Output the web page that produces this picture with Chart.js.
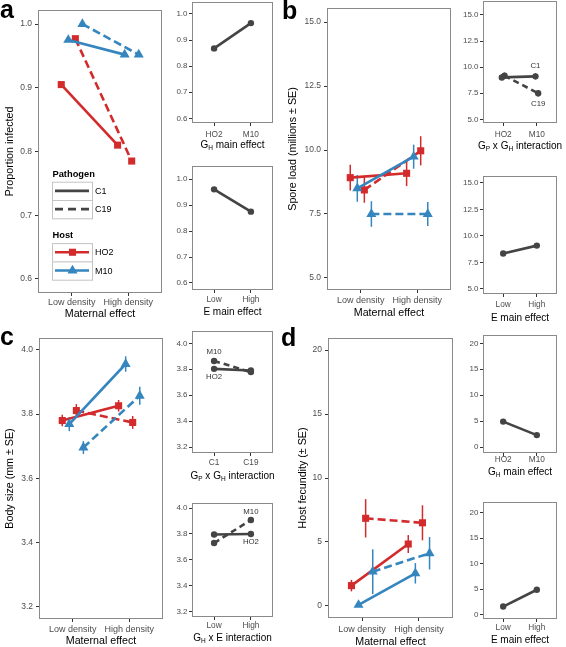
<!DOCTYPE html>
<html>
<head>
<meta charset="utf-8">
<script src="https://cdn.jsdelivr.net/npm/chart.js@4.4.1/dist/chart.umd.min.js"></script>
<style>
  html, body { margin: 0; padding: 0; background: #fff; }
  #fig { position: relative; width: 566px; height: 647px; overflow: hidden; background: #fff;
         font-family: "Liberation Sans", Arial, Helvetica, sans-serif; }
  #fig canvas { position: absolute; }
  .plab { position: absolute; font-weight: bold; font-size: 25px; line-height: 25px; color: #000; }
  .xt { position: absolute; font-size: 10px; line-height: 10px; color: #000; white-space: nowrap;
        transform: translate(-50%, -50%); }
  .xt sub { font-size: 6.5px; vertical-align: -2px; line-height: 0; }
</style>
</head>
<body>
<div id="fig"></div>
<script>
// ---------------- DATA ----------------
const maternal = ['Low density', 'High density'];
const hosts = ['HO2', 'M10'];
const pathogens = ['C1', 'C19'];
const envLevels = ['Low', 'High'];

const yTicksProp = [0.6, 0.7, 0.8, 0.9, 1.0];
const yTicksSpore = [5.0, 7.5, 10.0, 12.5, 15.0];
const yTicksSize = [3.2, 3.4, 3.6, 3.8, 4.0];
const yTicksFec = [0, 5, 10, 15, 20];

// (a) proportion infected  [Low density, High density]
const infHO2C1 = [0.905, 0.810];
const infHO2C19 = [0.977, 0.785];
const infM10C1 = [0.975, 0.952];
const infM10C19 = [1.000, 0.952];
const infByHost = [0.868, 0.965];   // HO2, M10
const infByEnv = [0.961, 0.875];    // Low, High

// (b) spore load (millions)
const sporeHO2C1 = [8.92, 9.09];   const sporeHO2C1SE = [0.50, 0.50];
const sporeHO2C19 = [8.44, 9.97];  const sporeHO2C19SE = [0.50, 0.57];
const sporeM10C1 = [8.50, 9.74];   const sporeM10C1SE = [0.52, 0.47];
const sporeM10C19 = [7.50, 7.50];  const sporeM10C19SE = [0.50, 0.47];
const sporeC1ByHost = [9.02, 9.12];  const sporeC1ByHostSE = [0.30, 0.30];
const sporeC19ByHost = [9.18, 7.50]; const sporeC19ByHostSE = [0.30, 0.30];
const sporeByEnv = [8.34, 9.08];

// (c) body size (mm)
const sizeHO2C1 = [3.780, 3.826];  const sizeHO2C1SE = [0.018, 0.018];
const sizeHO2C19 = [3.811, 3.774]; const sizeHO2C19SE = [0.020, 0.020];
const sizeM10C1 = [3.769, 3.956];  const sizeM10C1SE = [0.022, 0.024];
const sizeM10C19 = [3.696, 3.857]; const sizeM10C19SE = [0.020, 0.028];
const sizeHO2ByPath = [3.803, 3.790];  // C1, C19
const sizeM10ByPath = [3.864, 3.778];
const sizeHO2ByEnv = [3.796, 3.800];   // Low, High
const sizeM10ByEnv = [3.730, 3.908];

// (d) host fecundity
const fecHO2C1 = [1.59, 4.84];   const fecHO2C1SE = [0.45, 0.70];
const fecHO2C19 = [6.85, 6.50];  const fecHO2C19SE = [1.50, 1.37];
const fecM10C1 = [0.08, 2.55];   const fecM10C1SE = [0.00, 0.80];
const fecM10C19 = [2.68, 4.12];  const fecM10C19SE = [1.75, 1.27];
const fecByHost = [4.90, 2.30];
const fecByEnv = [1.60, 4.90];

// ---------------- STYLE / HELPERS ----------------
const fig = document.getElementById('fig');
const FONT = '"Liberation Sans", Arial, Helvetica, sans-serif';
const RED = '#D32A2C', BLUE = '#3585BF', DARK = '#444444';
const TICK_COL = '#4d4d4d';
Chart.defaults.font.family = FONT;
const DODGE = [-0.1875, -0.0625, 0.0625, 0.1875];

function pts(vals, dodge) { return vals.map((v, i) => ({ x: i + 1 + (dodge || 0), y: v })); }

function mainSet(label, vals, ses, host, dashed, dodge) {
  const col = host === hosts[0] ? RED : BLUE;
  const tri = host === hosts[1];
  return {
    label, data: pts(vals, dodge), errors: ses, showLine: true,
    borderColor: col, backgroundColor: col, borderWidth: 2.6, borderDash: dashed ? [8, 4] : [],
    pointStyle: tri ? 'triangle' : 'rect', pointRadius: tri ? 5.8 : 5.0, pointBorderWidth: 0,
    pointBackgroundColor: col, pointBorderColor: col, order: tri ? 0 : 1
  };
}
function sideSet(label, vals, dashed, extra) {
  extra = extra || {};
  return {
    label, data: pts(vals, extra.dodge), errors: extra.errors, showLine: true,
    borderColor: DARK, backgroundColor: DARK, borderWidth: 2.6, borderDash: dashed ? [6, 4] : [],
    pointStyle: 'circle', pointRadius: 3.2, pointBorderWidth: 0, pointBackgroundColor: DARK,
    pointLabel: extra.pl
  };
}

// panel border
const boxPlugin = {
  id: 'ggBox',
  afterDatasetsDraw(chart) {
    const { ctx, chartArea: a } = chart;
    ctx.save();
    ctx.strokeStyle = '#8a8a8a'; ctx.lineWidth = 1; ctx.setLineDash([]);
    ctx.strokeRect(a.left + 0.5, a.top + 0.5, a.right - a.left - 1, a.bottom - a.top - 1);
    ctx.restore();
  }
};
// error bars
const errPlugin = {
  id: 'ggErr',
  beforeDatasetsDraw(chart) {
    const ctx = chart.ctx, ys = chart.scales.y;
    chart.data.datasets.forEach((ds, i) => {
      if (!ds.errors) return;
      const meta = chart.getDatasetMeta(i);
      ctx.save();
      ctx.strokeStyle = ds.borderColor; ctx.lineWidth = 1.5; ctx.setLineDash([]);
      ds.data.forEach((p, j) => {
        const se = ds.errors[j];
        if (!se) return;
        const x = meta.data[j].x;
        ctx.beginPath();
        ctx.moveTo(x, ys.getPixelForValue(p.y + se));
        ctx.lineTo(x, ys.getPixelForValue(p.y - se));
        ctx.stroke();
      });
      ctx.restore();
    });
  }
};
// text labels next to points (side panels)
const labelPlugin = {
  id: 'ggPtLabel',
  afterDatasetsDraw(chart) {
    const ctx = chart.ctx;
    chart.data.datasets.forEach((ds, i) => {
      if (!ds.pointLabel) return;
      const el = chart.getDatasetMeta(i).data[ds.pointLabel.index];
      ctx.save();
      ctx.font = '7.8px ' + FONT; ctx.fillStyle = '#333';
      ctx.textAlign = 'center'; ctx.textBaseline = 'middle';
      ctx.fillText(ds.label, el.x, el.y + ds.pointLabel.dy);
      ctx.restore();
    });
  }
};
function drawMarker(ctx, style, r, x, y) {
  ctx.beginPath();
  if (style === 'rect') {
    const s = Math.SQRT1_2 * r; ctx.rect(x - s, y - s, 2 * s, 2 * s);
  } else if (style === 'triangle') {
    let rad = 0;
    ctx.moveTo(x + Math.sin(rad) * r, y - Math.cos(rad) * r);
    rad += 2 * Math.PI / 3; ctx.lineTo(x + Math.sin(rad) * r, y - Math.cos(rad) * r);
    rad += 2 * Math.PI / 3; ctx.lineTo(x + Math.sin(rad) * r, y - Math.cos(rad) * r);
    ctx.closePath();
  } else { ctx.arc(x, y, r, 0, 2 * Math.PI); }
  ctx.fill();
}
// ggplot-like legend inside panel a
const legendPlugin = {
  id: 'ggLegend',
  afterDatasetsDraw(chart, args, o) {
    if (!o || !o.groups) return;
    const ctx = chart.ctx, ca = chart.chartArea;
    const x0 = ca.left + o.left;
    let y = ca.top + o.top;
    ctx.save();
    o.groups.forEach(g => {
      ctx.fillStyle = '#000'; ctx.font = 'bold 9.3px ' + FONT;
      ctx.textAlign = 'left'; ctx.textBaseline = 'middle';
      ctx.fillText(g.title, x0 + 0.5, y);
      let ky = y + o.titleGap;
      g.items.forEach(it => {
        ctx.fillStyle = '#fff'; ctx.fillRect(x0, ky, o.keyW, o.keyH);
        ctx.strokeStyle = '#c4c4c4'; ctx.lineWidth = 1; ctx.setLineDash([]);
        ctx.strokeRect(x0 + 0.5, ky + 0.5, o.keyW, o.keyH);
        const cy = ky + o.keyH / 2;
        ctx.strokeStyle = it.color; ctx.lineWidth = 2.6; ctx.setLineDash(it.dash || []);
        ctx.beginPath(); ctx.moveTo(x0 + 3, cy); ctx.lineTo(x0 + o.keyW - 3, cy); ctx.stroke();
        ctx.setLineDash([]);
        if (it.marker) { ctx.fillStyle = it.color; drawMarker(ctx, it.marker, it.r, x0 + o.keyW / 2 + 0.5, cy); }
        ctx.fillStyle = '#000'; ctx.font = '9px ' + FONT;
        ctx.fillText(it.text, x0 + o.keyW + 3, cy + 0.5);
        ky += o.keyH;
      });
      y = ky + o.groupGap;
    });
    ctx.restore();
  }
};

function makeChart(s) {
  const tl = 3, padTop = 10, padRight = 10;
  const yFont = s.yFont, xFont = s.xFont;
  const titleSize = 10.7, titleHalf = titleSize * 1.2 / 2 + 1;
  const yw = s.yTitle ? Math.round(s.L - (s.yTitleX - titleHalf)) : 30;
  const left = s.L - yw, top = s.T - padTop;
  const xh = s.xTitle ? Math.round(s.xTitleY + titleHalf - s.B) : Math.round(s.xTickY + 8 - s.B);
  const W = s.R - s.L + yw + padRight;
  const H = padTop + s.B - s.T + xh;
  const cv = document.createElement('canvas');
  cv.width = W; cv.height = H;
  cv.style.left = left + 'px'; cv.style.top = top + 'px';
  cv.style.width = W + 'px'; cv.style.height = H + 'px';
  fig.appendChild(cv);
  const xPad = s.xTickY - s.B - tl - xFont * 1.2 / 2;
  const grid = { display: true, drawOnChartArea: false, drawTicks: true, tickLength: tl, color: '#333', lineWidth: 1 };
  const plugins = [errPlugin, boxPlugin, labelPlugin];
  if (s.legend) plugins.push(legendPlugin);
  return new Chart(cv, {
    type: 'scatter',
    data: { datasets: s.datasets },
    options: {
      responsive: false, animation: false, devicePixelRatio: 1, events: [],
      layout: { padding: { top: padTop, right: padRight, left: 0, bottom: 0 } },
      plugins: { legend: { display: false }, tooltip: { enabled: false }, ggLegend: s.legend || false },
      scales: {
        x: {
          type: 'linear', position: 'bottom', min: 0.4, max: 2.6,
          afterBuildTicks: sc => { sc.ticks = s.xCats.map((c, i) => ({ value: i + 1 })); },
          afterFit: sc => { sc.height = xh; },
          ticks: { autoSkip: false, maxRotation: 0, minRotation: 0, padding: xPad, color: TICK_COL,
                   font: { family: FONT, size: xFont }, callback: v => s.xCats[Math.round(v) - 1] },
          grid, border: { display: false },
          title: s.xTitle ? { display: true, text: s.xTitle, color: '#000', font: { family: FONT, size: titleSize },
                              padding: { top: 0, bottom: 1 } } : { display: false }
        },
        y: {
          type: 'linear', position: 'left', min: s.yMin, max: s.yMax,
          afterBuildTicks: sc => { sc.ticks = s.yTicks.map(v => ({ value: v })); },
          afterFit: sc => { sc.width = yw; },
          ticks: { padding: s.yPad, color: TICK_COL, font: { family: FONT, size: yFont },
                   callback: v => Number(v).toFixed(s.dec) },
          grid, border: { display: false },
          title: s.yTitle ? { display: true, text: s.yTitle, color: '#000', font: { family: FONT, size: titleSize },
                              padding: { top: 1, bottom: 0 } } : { display: false }
        }
      }
    },
    plugins
  });
}

// ---------------- PANELS ----------------
const mainCommon = { xCats: maternal, yFont: 8.5, xFont: 9, yPad: 3 };
const sideCommon = { yFont: 8, xFont: 8.3, yPad: 1.5 };

const specs = [
  // ---- a ----
  Object.assign({}, mainCommon, {
    L: 38, R: 162, T: 10, B: 293, yMin: 0.578, yMax: 1.022, yTicks: yTicksProp, dec: 1,
    yTitle: 'Proportion infected', yTitleX: 10, xTickY: 302.5, xTitle: 'Maternal effect', xTitleY: 313.5,
    datasets: [
      mainSet('M10 C1', infM10C1, null, 'M10', false, DODGE[1]),
      mainSet('M10 C19', infM10C19, null, 'M10', true, DODGE[3]),
      mainSet('HO2 C1', infHO2C1, null, 'HO2', false, DODGE[0]),
      mainSet('HO2 C19', infHO2C19, null, 'HO2', true, DODGE[2])
    ],
    legend: {
      left: 14, top: 164.3, titleGap: 7.4, keyW: 40, keyH: 18.3, groupGap: 17.4,
      groups: [
        { title: 'Pathogen', items: [
          { text: pathogens[0], color: DARK, dash: [] },
          { text: pathogens[1], color: DARK, dash: [8, 5] } ] },
        { title: 'Host', items: [
          { text: hosts[0], color: RED, marker: 'rect', r: 5.0 },
          { text: hosts[1], color: BLUE, marker: 'triangle', r: 5.8 } ] }
      ]
    }
  }),
  Object.assign({}, sideCommon, {
    L: 192, R: 273, T: 2, B: 123, yMin: 0.582, yMax: 1.046, yTicks: yTicksProp, dec: 1,
    xCats: hosts, xTickY: 135, datasets: [sideSet('G_H', infByHost, false)]
  }),
  Object.assign({}, sideCommon, {
    L: 192, R: 273, T: 166, B: 290, yMin: 0.573, yMax: 1.051, yTicks: yTicksProp, dec: 1,
    xCats: envLevels, xTickY: 300, datasets: [sideSet('E', infByEnv, false)]
  }),
  // ---- b ----
  Object.assign({}, mainCommon, {
    L: 327, R: 451, T: 8, B: 290, yMin: 4.53, yMax: 15.55, yTicks: yTicksSpore, dec: 1,
    yTitle: 'Spore load (millions \u00b1 SE)', yTitleX: 293, xTickY: 301, xTitle: 'Maternal effect', xTitleY: 312.7,
    datasets: [
      mainSet('M10 C1', sporeM10C1, sporeM10C1SE, 'M10', false, DODGE[1]),
      mainSet('M10 C19', sporeM10C19, sporeM10C19SE, 'M10', true, DODGE[3]),
      mainSet('HO2 C1', sporeHO2C1, sporeHO2C1SE, 'HO2', false, DODGE[0]),
      mainSet('HO2 C19', sporeHO2C19, sporeHO2C19SE, 'HO2', true, DODGE[2])
    ]
  }),
  Object.assign({}, sideCommon, {
    L: 483, R: 557, T: 1, B: 123, yMin: 4.65, yMax: 16.34, yTicks: yTicksSpore, dec: 1,
    xCats: hosts, xTickY: 135,
    datasets: [
      sideSet(pathogens[0], sporeC1ByHost, false, { errors: sporeC1ByHostSE, dodge: -0.04, pl: { index: 1, dy: -10 } }),
      sideSet(pathogens[1], sporeC19ByHost, true, { errors: sporeC19ByHostSE, dodge: 0.04, pl: { index: 1, dy: 11 } })
    ]
  }),
  Object.assign({}, sideCommon, {
    L: 483, R: 557, T: 176, B: 294, yMin: 4.52, yMax: 15.64, yTicks: yTicksSpore, dec: 1,
    xCats: envLevels, xTickY: 305, datasets: [sideSet('E', sporeByEnv, false)]
  }),
  // ---- c ----
  Object.assign({}, mainCommon, {
    L: 39, R: 163, T: 338, B: 619, yMin: 3.162, yMax: 4.037, yTicks: yTicksSize, dec: 1,
    yTitle: 'Body size (mm \u00b1 SE)', yTitleX: 10, xTickY: 629.3, xTitle: 'Maternal effect', xTitleY: 641,
    datasets: [
      mainSet('M10 C1', sizeM10C1, sizeM10C1SE, 'M10', false, DODGE[1]),
      mainSet('M10 C19', sizeM10C19, sizeM10C19SE, 'M10', true, DODGE[3]),
      mainSet('HO2 C1', sizeHO2C1, sizeHO2C1SE, 'HO2', false, DODGE[0]),
      mainSet('HO2 C19', sizeHO2C19, sizeHO2C19SE, 'HO2', true, DODGE[2])
    ]
  }),
  Object.assign({}, sideCommon, {
    L: 192, R: 273, T: 331, B: 453, yMin: 3.154, yMax: 4.095, yTicks: yTicksSize, dec: 1,
    xCats: pathogens, xTickY: 462.7,
    datasets: [
      sideSet(hosts[0], sizeHO2ByPath, false, { pl: { index: 0, dy: 7.5 } }),
      sideSet(hosts[1], sizeM10ByPath, true, { pl: { index: 0, dy: -9.5 } })
    ]
  }),
  Object.assign({}, sideCommon, {
    L: 192, R: 273, T: 503, B: 617, yMin: 3.157, yMax: 4.04, yTicks: yTicksSize, dec: 1,
    xCats: envLevels, xTickY: 625.7,
    datasets: [
      sideSet(hosts[0], sizeHO2ByEnv, false, { pl: { index: 1, dy: 8 } }),
      sideSet(hosts[1], sizeM10ByEnv, true, { pl: { index: 1, dy: -8 } })
    ]
  }),
  // ---- d ----
  Object.assign({}, mainCommon, {
    L: 328, R: 453, T: 338, B: 618, yMin: -0.94, yMax: 20.94, yTicks: yTicksFec, dec: 0,
    yTitle: 'Host fecundity (\u00b1 SE)', yTitleX: 303.3, xTickY: 629.3, xTitle: 'Maternal effect', xTitleY: 641.5,
    datasets: [
      mainSet('M10 C1', fecM10C1, fecM10C1SE, 'M10', false, DODGE[1]),
      mainSet('M10 C19', fecM10C19, fecM10C19SE, 'M10', true, DODGE[3]),
      mainSet('HO2 C1', fecHO2C1, fecHO2C1SE, 'HO2', false, DODGE[0]),
      mainSet('HO2 C19', fecHO2C19, fecHO2C19SE, 'HO2', true, DODGE[2])
    ]
  }),
  Object.assign({}, sideCommon, {
    L: 483, R: 557, T: 335, B: 453, yMin: -1.15, yMax: 21.6, yTicks: yTicksFec, dec: 0,
    xCats: hosts, xTickY: 460, datasets: [sideSet('G_H', fecByHost, false)]
  }),
  Object.assign({}, sideCommon, {
    L: 483, R: 557, T: 502, B: 619, yMin: -0.84, yMax: 22.1, yTicks: yTicksFec, dec: 0,
    xCats: envLevels, xTickY: 628, datasets: [sideSet('E', fecByEnv, false)]
  })
];
specs.forEach(makeChart);

// side-panel axis titles (with subscripts) as real text
const sideTitles = [
  { spec: 1, y: 145, html: 'G<sub>H</sub> main effect' },
  { spec: 2, y: 311.7, html: 'E main effect' },
  { spec: 4, y: 145.7, html: 'G<sub>P</sub> x G<sub>H</sub> interaction' },
  { spec: 5, y: 317.7, html: 'E main effect' },
  { spec: 7, y: 475.7, html: 'G<sub>P</sub> x G<sub>H</sub> interaction' },
  { spec: 8, y: 638, html: 'G<sub>H</sub> x E interaction' },
  { spec: 10, y: 471.7, html: 'G<sub>H</sub> main effect' },
  { spec: 11, y: 640, html: 'E main effect' }
];
sideTitles.forEach(t => {
  const s = specs[t.spec];
  const d = document.createElement('div');
  d.className = 'xt'; d.innerHTML = t.html;
  d.style.left = ((s.L + s.R) / 2) + 'px'; d.style.top = t.y + 'px';
  fig.appendChild(d);
});

// panel letters
[['a', 0, 18], ['b', 282, 19], ['c', 0, 345], ['d', 281, 346]].forEach(([t, x, base]) => {
  const d = document.createElement('div');
  d.className = 'plab'; d.textContent = t;
  d.style.left = x + 'px'; d.style.top = (base - 21.1) + 'px';
  fig.appendChild(d);
});
</script>
</body>
</html>
